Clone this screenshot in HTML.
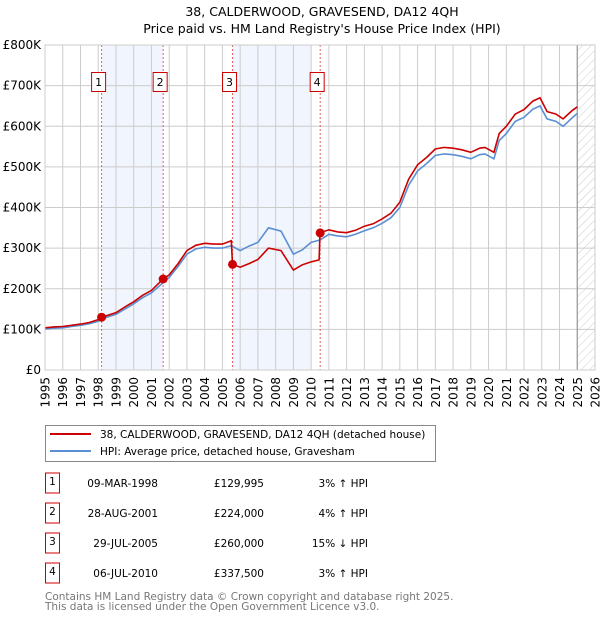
<!DOCTYPE html>
<html><head><meta charset="utf-8"><style>
body{margin:0;background:#fff;}
svg text{font-family:"DejaVu Sans","Liberation Sans",sans-serif;}
</style></head><body>
<svg id="chart" width="600" height="620" viewBox="0 0 600 620" xmlns="http://www.w3.org/2000/svg">
<text x="322" y="16" font-size="12.5" text-anchor="middle" fill="#000">38, CALDERWOOD, GRAVESEND, DA12 4QH</text>
<text x="322" y="33" font-size="12.5" text-anchor="middle" fill="#000">Price paid vs. HM Land Registry's House Price Index (HPI)</text>
<g id="plot"></g>
<g>
<rect x="45.5" y="425.5" width="390" height="36" fill="#fff" stroke="#888"/>
<line x1="50" y1="434" x2="91" y2="434" stroke="#cc0000" stroke-width="2"/>
<text x="100" y="438" font-size="10.5">38, CALDERWOOD, GRAVESEND, DA12 4QH (detached house)</text>
<line x1="50" y1="451" x2="91" y2="451" stroke="#5b8fd4" stroke-width="2"/>
<text x="100" y="455" font-size="10.5">HPI: Average price, detached house, Gravesham</text>
</g>
<g id="table"></g>
<text x="45" y="600" font-size="10.5" fill="#777">Contains HM Land Registry data © Crown copyright and database right 2025.</text>
<text x="45" y="610" font-size="10.5" fill="#777">This data is licensed under the Open Government Licence v3.0.</text>
</svg>
<script>
const yearTicks=[1995,1996,1997,1998,1999,2000,2001,2002,2003,2004,2005,2006,2007,2008,2009,2010,2011,2012,2013,2014,2015,2016,2017,2018,2019,2020,2021,2022,2023,2024,2025,2026];
const valueTicks=[0,100000,200000,300000,400000,500000,600000,700000,800000];
const valueLabels=["£0","£100K","£200K","£300K","£400K","£500K","£600K","£700K","£800K"];
const hpiDates=[1995,1995.5,1996,1996.5,1997,1997.5,1998,1998.2,1999,1999.5,2000,2000.5,2001,2001.65,2002,2002.5,2003,2003.5,2004,2004.5,2005,2005.5,2006,2006.5,2007,2007.6,2008.3,2009,2009.5,2010,2010.5,2011,2011.5,2012,2012.5,2013,2013.5,2014,2014.5,2015,2015.5,2016,2016.5,2017,2017.5,2018,2018.5,2019,2019.5,2019.8,2020.3,2020.6,2021,2021.5,2022,2022.5,2022.9,2023.3,2023.8,2024.2,2024.7,2025];
const hpiValues=[101000,103000,104000,107000,110000,114000,120000,126000,137000,150000,163000,178000,190000,215000,228000,255000,285000,298000,302000,300000,300000,306000,294000,305000,314000,350000,342000,285000,296000,314000,320000,334000,330000,328000,334000,343000,350000,361000,375000,400000,455000,490000,508000,528000,532000,530000,526000,520000,530000,532000,520000,565000,582000,612000,622000,642000,650000,618000,612000,600000,620000,632000];
const redDates=[1995,1995.5,1996,1996.5,1997,1997.5,1998,1998.2,1999,1999.5,2000,2000.5,2001,2001.65,2002,2002.5,2003,2003.5,2004,2004.5,2005,2005.5,2005.57,2006,2006.5,2007,2007.6,2008.3,2009,2009.5,2010,2010.45,2010.5,2011,2011.5,2012,2012.5,2013,2013.5,2014,2014.5,2015,2015.5,2016,2016.5,2017,2017.5,2018,2018.5,2019,2019.5,2019.8,2020.3,2020.6,2021,2021.5,2022,2022.5,2022.9,2023.3,2023.8,2024.2,2024.7,2025];
const redValues=[104000,106000,107000,110000,113000,117000,124000,129995,141000,155000,168000,184000,196000,224000,234000,262000,294000,307000,312000,310000,310000,318000,260000,253000,262000,272000,300000,294000,246000,259000,266000,271000,337500,345000,340000,338000,344000,354000,360000,372000,386000,413000,470000,505000,523000,544000,548000,546000,542000,536000,546000,548000,536000,582000,600000,630000,641000,662000,670000,636000,630000,618000,638000,648000];
const saleDates=[1998.19,2001.66,2005.57,2010.51];
const salePrices=[129995,224000,260000,337500];
const saleLabels=["1","2","3","4"];
const tableDates=["09-MAR-1998","28-AUG-2001","29-JUL-2005","06-JUL-2010"];
const tablePrices=["£129,995","£224,000","£260,000","£337,500"];
const tableHpi=["3% ↑ HPI","4% ↑ HPI","15% ↓ HPI","3% ↑ HPI"];

const NS="http://www.w3.org/2000/svg";
const L=45,R=595,T=45,B=370;
const x=d=>L+(d-1995)/(2026-1995)*(R-L);
const y=v=>B-v/800000*(B-T);
function mk(tag,attrs,parent){const e=document.createElementNS(NS,tag);for(const k in attrs)e.setAttribute(k,attrs[k]);parent.appendChild(e);return e;}
const plot=document.getElementById('plot');
const shades=[[saleDates[0],saleDates[1]],[saleDates[2],2010.0]];
shades.forEach(s=>{const r=mk('rect',{x:x(s[0]),y:T,width:x(s[1])-x(s[0]),height:B-T,fill:'#eef3fc',opacity:0.8},plot);

});
const defs=mk('defs',{},plot);
const pat=mk('pattern',{id:'hatch',width:6,height:6,patternUnits:'userSpaceOnUse',patternTransform:'rotate(45)'},defs);
mk('line',{x1:0,y1:0,x2:0,y2:6,stroke:'#ccc','stroke-width':1},pat);
const hr=mk('rect',{x:x(2025),y:T,width:R-x(2025),height:B-T,fill:'url(#hatch)'},plot);


yearTicks.forEach(t=>{const g=mk('line',{x1:x(t),y1:T,x2:x(t),y2:B,stroke:'#ccc','stroke-width':1},plot);


const tx=mk('text',{x:0,y:0,'font-size':12,'text-anchor':'end',fill:'#000',transform:'translate('+(x(t)+4.5)+','+(B+7)+') rotate(-90)'},plot);tx.textContent=t;

});
valueTicks.forEach((v,i)=>{const g=mk('line',{x1:L,y1:y(v),x2:R,y2:y(v),stroke:'#ccc','stroke-width':1},plot);


const tx=mk('text',{x:L-4,y:y(v)+4,'font-size':12,'text-anchor':'end',fill:'#000'},plot);tx.textContent=valueLabels[i];

});
const nl=mk('line',{x1:x(2025),y1:T,x2:x(2025),y2:B,stroke:'#999','stroke-width':1.2},plot);


saleDates.forEach((d,i)=>{const l=mk('line',{x1:x(d),y1:T,x2:x(d),y2:B,stroke:'#e06060','stroke-width':1,'stroke-dasharray':'2,2'},plot);


const bx=mk('rect',{x:x(d)-10,y:72.5,width:14,height:19,fill:'#fff',stroke:'#cc0000'},plot);


const t=mk('text',{x:x(d)-3,y:86,'font-size':11,'text-anchor':'middle'},plot);t.textContent=saleLabels[i];

});
const hp=mk('path',{d:hpiDates.map((d,i)=>(i?'L':'M')+x(d).toFixed(1)+' '+y(hpiValues[i]).toFixed(1)).join(''),fill:'none',stroke:'#5b8fd4','stroke-width':1.6},plot);


const rp=mk('path',{d:redDates.map((d,i)=>(i?'L':'M')+x(d).toFixed(1)+' '+y(redValues[i]).toFixed(1)).join(''),fill:'none',stroke:'#cc0000','stroke-width':1.6},plot);


saleDates.forEach((d,i)=>{const c=mk('circle',{cx:x(d),cy:y(salePrices[i]),r:4.5,fill:'#cc0000'},plot);

});
const fr=mk('rect',{x:L,y:T,width:R-L,height:B-T,fill:'none',stroke:'#ccc'},plot);


const tb=document.getElementById('table');
tableDates.forEach((d,i)=>{const cy=483+i*30;
const b=mk('rect',{x:45.5,y:cy-10,width:14,height:20,fill:'#fff',stroke:'#cc0000'},tb);


const n=mk('text',{x:52.5,y:cy+2,'font-size':10.5,'text-anchor':'middle'},tb);n.textContent=saleLabels[i];


const t1=mk('text',{x:158,y:cy+4,'font-size':10.5,'text-anchor':'end'},tb);t1.textContent=d;


const t2=mk('text',{x:264,y:cy+4,'font-size':10.5,'text-anchor':'end'},tb);t2.textContent=tablePrices[i];


const t3=mk('text',{x:368,y:cy+4,'font-size':10.5,'text-anchor':'end'},tb);t3.textContent=tableHpi[i];

});
</script>
</body></html>
